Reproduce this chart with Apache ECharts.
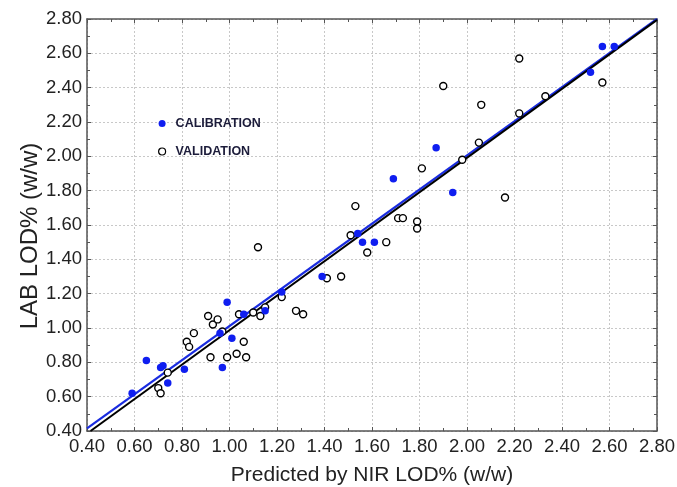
<!DOCTYPE html>
<html>
<head>
<meta charset="utf-8">
<script src="https://cdn.jsdelivr.net/npm/echarts@6/dist/echarts.min.js"></script>
<style>html,body{margin:0;padding:0;background:#fff}#c{width:677px;height:487px}</style>
</head>
<body>
<div id="c"></div>
<script>
const calX = [0.59,0.65,0.71,0.72,0.74,0.81,0.97,0.99,1.01,0.96,1.06,1.15,1.22,1.39,1.54,1.56,1.61,1.69,1.87,1.94,2.52,2.57,2.62];
const calY = [0.62,0.81,0.77,0.78,0.68,0.76,0.77,1.15,0.94,0.97,1.08,1.10,1.21,1.30,1.55,1.50,1.50,1.87,2.05,1.79,2.49,2.64,2.64];
const valX = [0.70,0.71,0.74,0.82,0.83,0.85,0.91,0.93,0.95,0.97,0.92,0.99,1.03,1.06,1.07,1.04,1.10,1.13,1.15,1.12,1.22,1.28,1.31,1.41,1.47,1.51,1.53,1.58,1.66,1.71,1.73,1.79,1.79,1.81,1.90,1.98,2.05,2.06,2.16,2.22,2.22,2.33,2.57];
const valY = [0.65,0.62,0.74,0.92,0.89,0.97,1.07,1.02,1.05,0.98,0.83,0.83,0.85,0.92,0.83,1.08,1.09,1.07,1.12,1.47,1.18,1.10,1.08,1.29,1.30,1.54,1.71,1.44,1.50,1.64,1.64,1.62,1.58,1.93,2.41,1.98,2.08,2.30,1.76,2.57,2.25,2.35,2.43];
const calLineX = [0.40, 2.80];
const calLineY = [0.415, 2.80];
const valLineX = [0.415, 2.80];
const valLineY = [0.40, 2.795];
const tickMin = 0.40, tickMax = 2.80, tickStep = 0.20;

const zip = (a, b) => a.map((v, i) => [v, b[i]]);
const fmt = v => v.toFixed(2);
const font = '"Liberation Sans", Arial, sans-serif';
const axisCommon = {
  min: tickMin, max: tickMax, interval: tickStep,
  axisLine: { show: true, onZero: false, lineStyle: { color: '#555', width: 1.5 } },
  axisTick: { show: true, inside: true, length: 4, lineStyle: { color: '#555' } },
  minorTick: { show: true, splitNumber: 2, length: 3, lineStyle: { color: '#555' } },
};
const chart = echarts.init(document.getElementById('c'));
chart.setOption({
  animation: false,
  grid: { left: 87, right: 20, top: 19, bottom: 56, containLabel: false, outerBoundsMode: 'none' },
  legend: {
    orient: 'vertical', left: 158, top: 117, padding: 0, itemGap: 15, itemWidth: 7, itemHeight: 7,
    textStyle: { fontFamily: font, fontWeight: 'bold', fontSize: 12.5, color: '#1c1c3a', padding: [0, 0, 0, 5] },
    data: [
      { name: 'CALIBRATION', icon: 'circle' },
      { name: 'VALIDATION', icon: 'circle', itemStyle: { color: '#fff', borderColor: '#000', borderWidth: 1.2 } }
    ]
  },
  xAxis: [
    Object.assign({}, axisCommon, {
      type: 'value', position: 'bottom',
      name: 'Predicted by NIR LOD% (w/w)', nameLocation: 'middle', nameGap: 34, nameMoveOverlap: false,
      nameTextStyle: { fontFamily: font, fontSize: 21, color: '#222' },
      axisLabel: { formatter: fmt, margin: 6, fontFamily: font, fontSize: 18.5, color: '#222' },
      splitLine: { show: true, lineStyle: { color: '#c8c8c8', type: [2, 2], width: 1 } }
    }),
    Object.assign({}, axisCommon, {
      type: 'value', position: 'top', axisLabel: { show: false }, splitLine: { show: false }
    })
  ],
  yAxis: [
    Object.assign({}, axisCommon, {
      type: 'value', position: 'left',
      name: 'LAB LOD% (w/w)', nameLocation: 'middle', nameGap: 45, nameMoveOverlap: false,
      nameTextStyle: { fontFamily: font, fontSize: 24, color: '#222', padding: [0, 22, 0, 0] },
      axisLabel: { formatter: fmt, margin: 5, fontFamily: font, fontSize: 18.5, color: '#222' },
      splitLine: { show: true, lineStyle: { color: '#c8c8c8', type: [2, 2], width: 1 } }
    }),
    Object.assign({}, axisCommon, {
      type: 'value', position: 'right', axisLabel: { show: false }, splitLine: { show: false }
    })
  ],
  series: [
    { name: 'calLine', type: 'line', data: zip(calLineX, calLineY), symbol: 'none',
      lineStyle: { color: '#1a2ce0', width: 2.2 }, z: 2, silent: true },
    { name: 'valLine', type: 'line', data: zip(valLineX, valLineY), symbol: 'none',
      lineStyle: { color: '#000', width: 2 }, z: 2, silent: true },
    { name: 'CALIBRATION', type: 'scatter', data: zip(calX, calY), symbol: 'circle', symbolSize: 7.5,
      itemStyle: { color: '#0f1ef0', opacity: 1 }, z: 4 },
    { name: 'VALIDATION', type: 'scatter', data: zip(valX, valY), symbol: 'circle', symbolSize: 7,
      itemStyle: { color: '#fff', borderColor: '#000', borderWidth: 1.4, opacity: 1 }, z: 3 }
  ]
});
</script>
</body>
</html>
